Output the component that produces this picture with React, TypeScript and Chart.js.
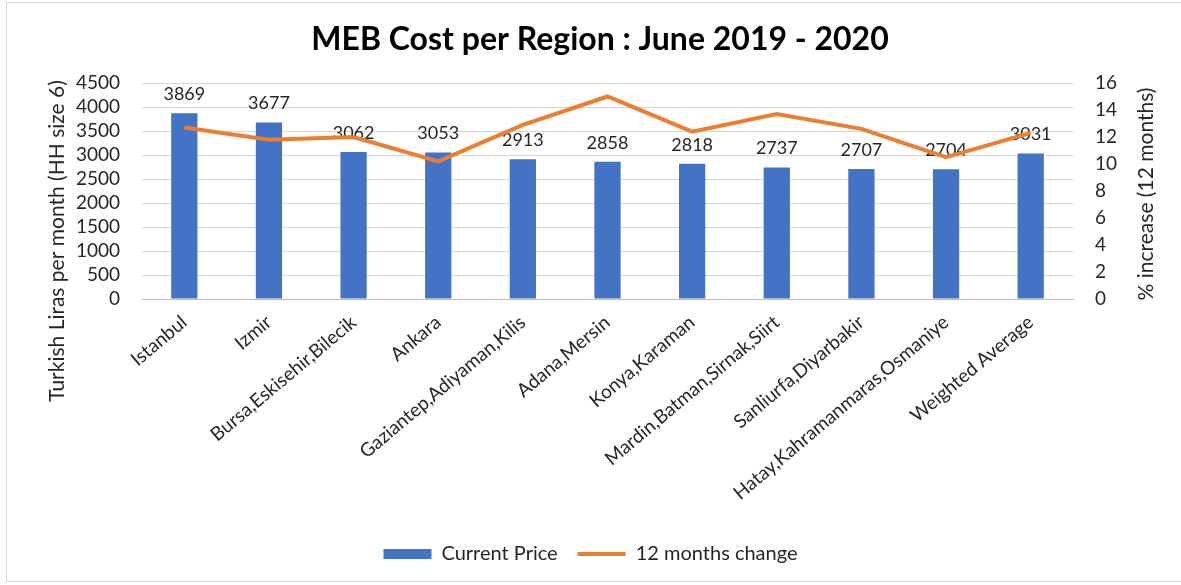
import React, { useEffect, useRef } from "react";
import { Chart, registerables } from "chart.js";

Chart.register(...registerables);

const chartTitle = "MEB Cost per Region : June 2019 - 2020";
const leftAxisTitle = "Turkish Liras per month (HH size 6)";
const rightAxisTitle = "% increase (12 months)";

const categories = [
  "Istanbul",
  "Izmir",
  "Bursa,Eskisehir,Bilecik",
  "Ankara",
  "Gaziantep,Adiyaman,Kilis",
  "Adana,Mersin",
  "Konya,Karaman",
  "Mardin,Batman,Sirnak,Siirt",
  "Sanliurfa,Diyarbakir",
  "Hatay,Kahramanmaras,Osmaniye",
  "Weighted Average",
];

const currentPrice = [3869, 3677, 3062, 3053, 2913, 2858, 2818, 2737, 2707, 2704, 3031];
const change12Months = [12.7, 11.8, 12.0, 10.2, 12.9, 15.0, 12.4, 13.7, 12.6, 10.5, 12.3];

const leftMax = 4500;
const leftStep = 500;
const rightMax = 16;
const rightStep = 2;

const FONT = "Lato, 'Open Sans', sans-serif";
const BLUE = "#4472C4";
const ORANGE = "#ED7D31";
const TEXT = "#262626";

const overlayPlugin = {
  id: "overlay",
  afterDatasetDraw(chart: any, args: any) {
    if (args.index !== 0) return;
    const ctx = chart.ctx;
    const meta = chart.getDatasetMeta(0);
    ctx.save();
    ctx.font = `18px ${FONT}`;
    ctx.fillStyle = TEXT;
    ctx.textAlign = "center";
    ctx.textBaseline = "bottom";
    meta.data.forEach((bar: any, i: number) => {
      ctx.fillText(String(currentPrice[i]), bar.x, bar.y - 10);
    });
    ctx.restore();
  },
  afterDraw(chart: any) {
    const ctx = chart.ctx;
    ctx.save();
    ctx.font = `bold 32px ${FONT}`;
    ctx.fillStyle = "#000";
    ctx.textAlign = "center";
    ctx.textBaseline = "middle";
    ctx.fillText(chartTitle, 600, 40);
    ctx.restore();

    ctx.save();
    ctx.font = `21px ${FONT}`;
    ctx.fillStyle = TEXT;
    ctx.textAlign = "center";
    ctx.textBaseline = "middle";
    ctx.translate(57, 241);
    ctx.rotate(-Math.PI / 2);
    ctx.fillText(leftAxisTitle, 0, 0);
    ctx.restore();

    ctx.save();
    ctx.font = `21px ${FONT}`;
    ctx.fillStyle = TEXT;
    ctx.textAlign = "center";
    ctx.textBaseline = "middle";
    ctx.translate(1146, 194);
    ctx.rotate(-Math.PI / 2);
    ctx.fillText(rightAxisTitle, 0, 0);
    ctx.restore();
  },
};

export default function App() {
  const ref = useRef<HTMLCanvasElement | null>(null);

  useEffect(() => {
    if (!ref.current) return;
    const chart = new Chart(ref.current, {
      type: "bar",
      data: {
        labels: categories,
        datasets: [
          {
            type: "bar",
            label: "Current Price",
            data: currentPrice,
            backgroundColor: BLUE,
            borderWidth: 0,
            yAxisID: "y",
            barPercentage: 0.31,
            categoryPercentage: 1,
            order: 1,
            pointStyle: "rect",
          } as any,
          {
            type: "line",
            label: "12 months change",
            data: change12Months,
            borderColor: ORANGE,
            backgroundColor: ORANGE,
            borderWidth: 4,
            pointRadius: 0,
            tension: 0,
            yAxisID: "y1",
            order: 0,
            pointStyle: "line",
          } as any,
        ],
      },
      options: {
        responsive: false,
        animation: false,
        layout: { padding: { left: 0, right: 0, top: 83, bottom: 11 } },
        plugins: {
          title: { display: false },
          legend: {
            position: "bottom",
            labels: {
              usePointStyle: true,
              pointStyleWidth: 48,
              boxHeight: 10,
              color: TEXT,
              padding: 20,
              font: { family: FONT, size: 20 },
              sort: (a: any, b: any) => a.datasetIndex - b.datasetIndex,
            },
          },
          tooltip: { enabled: false },
        },
        scales: {
          x: {
            grid: { display: false, drawTicks: false },
            border: { display: true, color: "#bfbfbf", width: 1 },
            ticks: {
              color: TEXT,
              font: { family: FONT, size: 19 },
              maxRotation: 40,
              minRotation: 40,
              autoSkip: false,
              padding: 12,
            },
            afterFit: (s: any) => {
              s.height = 225;
            },
          },
          y: {
            position: "left",
            min: 0,
            max: leftMax,
            grid: { color: "#d9d9d9", drawTicks: false },
            border: { display: false },
            ticks: {
              stepSize: leftStep,
              autoSkip: false,
              color: TEXT,
              font: { family: FONT, size: 19 },
              padding: 22,
              callback: (v: any) => String(v),
            },
            afterFit: (s: any) => {
              s.width = 142;
            },
          },
          y1: {
            position: "right",
            min: 0,
            max: rightMax,
            grid: { display: false, drawTicks: false },
            border: { display: false },
            ticks: {
              stepSize: rightStep,
              autoSkip: false,
              color: TEXT,
              font: { family: FONT, size: 19 },
              padding: 22,
              callback: (v: any) => String(v),
            },
            afterFit: (s: any) => {
              s.width = 108;
            },
          },
        },
      },
      plugins: [overlayPlugin],
    });
    return () => chart.destroy();
  }, []);

  return (
    <div style={{ position: "absolute", left: 0, top: 0, width: 1181, height: 585, background: "#fff" }}>
      <div
        style={{
          position: "absolute",
          left: 6,
          top: 2,
          width: 1180,
          height: 580,
          border: "1px solid #d9d9d9",
          boxSizing: "border-box",
        }}
      />
      <canvas ref={ref} width={1181} height={585} style={{ position: "absolute", left: 0, top: 0 }} />
    </div>
  );
}
